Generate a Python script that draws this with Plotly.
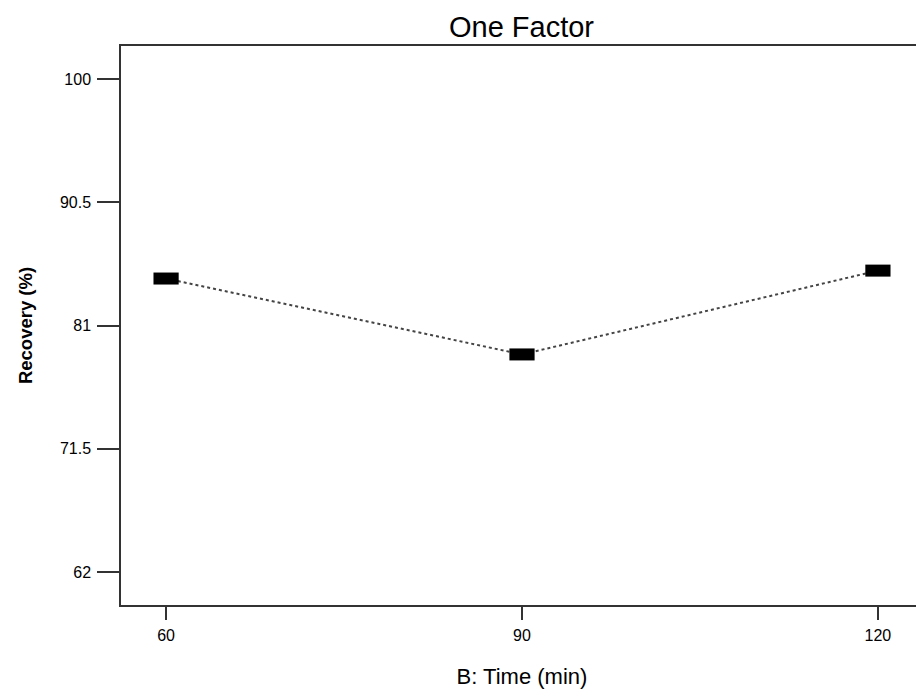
import plotly.graph_objects as go

time_min = [60, 90, 120]
recovery = [84.62, 78.77, 85.23]
y_ticks = [62, 71.5, 81, 90.5, 100]
x_ticks = [60, 90, 120]

FONT = "Liberation Sans, Arial, sans-serif"
AX = "#333333"

fig = go.Figure()
fig.add_trace(go.Scatter(
    x=time_min, y=recovery, mode="lines",
    line=dict(color="#444444", width=2, dash="dot"),
    hoverinfo="skip", showlegend=False,
))
fig.add_trace(go.Scatter(
    x=time_min, y=recovery, mode="markers",
    marker=dict(symbol="line-ew", size=18, color="black",
                line=dict(color="black", width=12)),
    showlegend=False,
))

fig.update_layout(
    width=916, height=685,
    margin=dict(l=113, r=1, t=38, b=88),
    paper_bgcolor="white", plot_bgcolor="white",
    font=dict(family=FONT, color="black"),
    title=dict(text="One Factor", x=0.5606, xanchor="center", y=0.972, yanchor="middle",
               font=dict(size=29, family=FONT, color="black")),
    xaxis=dict(
        range=[56.2, 123.8], tickvals=x_ticks, ticktext=[str(v) for v in x_ticks],
        ticks="outside", ticklen=13, tickwidth=1.5, tickcolor=AX,
        showline=True, linecolor=AX, linewidth=1.5, mirror=True,
        showgrid=False, zeroline=False, ticklabelstandoff=2,
        tickfont=dict(size=16, family=FONT, color="black"),
        title=dict(text="B: Time (min)", standoff=26,
                   font=dict(size=22, family=FONT, color="black")),
    ),
    yaxis=dict(
        range=[59.46, 102.54], tickvals=y_ticks,
        ticktext=["62", "71.5", "81", "90.5", "100"],
        ticks="outside", ticklen=22, tickwidth=1.5, tickcolor=AX,
        showline=True, linecolor=AX, linewidth=1.5,
        showgrid=False, zeroline=False, ticklabelstandoff=3,
        tickfont=dict(size=16, family=FONT, color="black"),
        title=dict(text="<b>Recovery (%)</b>", standoff=22,
                   font=dict(size=18.5, family=FONT, color="black")),
    ),
    shapes=[dict(type="line", xref="paper", yref="paper", x0=1, x1=1, y0=0, y1=1,
                 line=dict(color="#c8c8c8", width=1.5))],
)

fig.write_html("out.html")
